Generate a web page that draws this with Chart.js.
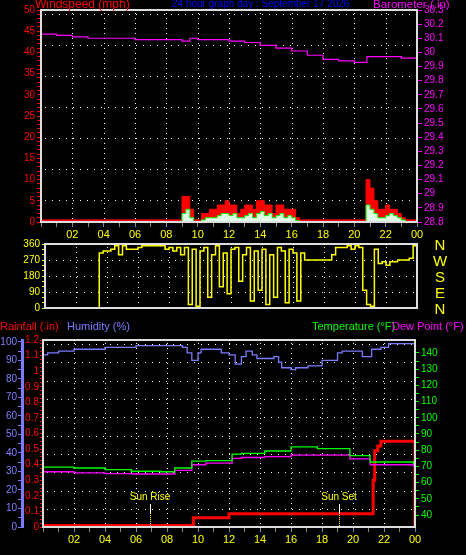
<!DOCTYPE html>
<html><head><meta charset="utf-8">
<script src="https://cdn.jsdelivr.net/npm/chart.js@4.4.0/dist/chart.umd.min.js"></script>
<style>
html,body{margin:0;padding:0;background:#000;width:466px;height:555px;overflow:hidden}
canvas{position:absolute;left:0}
#c1{top:0px}#c2{top:235px}#c3{top:320px}
</style></head><body>
<canvas id="c1" width="466" height="240"></canvas>
<canvas id="c2" width="466" height="90"></canvas>
<canvas id="c3" width="466" height="235"></canvas>
<script>
// ---------- DATA ----------
const quarterHours = Array.from({length:97},(_,i)=>i/4);
const windGust = [0.5,0.5,0.5,0.5,0.5,0.5,0.5,0.5,0.5,0.5,0.5,0.5,0.5,0.5,0.5,0.5,0.5,0.5,0.5,0.5,0.5,0.5,0.5,0.5,0.5,0.5,0.5,0.5,0.5,0.5,0.5,0.5,0.5,0.5,0.5,0.5,
 6,6,3,0.5,0.5,2,2,3,3,4,4,5,4,4,2,3,4,4,3,5,5,4,4,2,4,4,3,3,3,1,
 0.5,0.5,0.5,0.5,0.5,0.5,0.5,0.5,0.5,0.5,0.5,0.5,0.5,0.5,0.5,0.5,0.5,
 10,8,5,3,3,4,3,3,2,1,0.5,0.5,0.5,0.5];
const windAvg = [0,0,0,0,0,0,0,0,0,0,0,0,0,0,0,0,0,0,0,0,0,0,0,0,0,0,0,0,0,0,0,0,0,0,0,0,
 2,3,1,0,0,0.5,1,1,1,1.5,2,2,1.5,2,1,1,1.5,2,1,2,2.5,1.5,2,1,1.5,2,1,1.5,1,0.3,
 0,0,0,0,0,0,0,0,0,0,0,0,0,0,0,0,0,
 4,3,2,1,1,1.5,2,1.5,1,0.5,0,0,0,0];
const windDir = [0,0,0,0,0,0,0,0,0,0,0,0,0,0,310,320,320,330,350,300,350,330,330,330,340,350,350,350,350,350,350,330,340,320,340,300,
 340,20,330,10,320,340,60,300,350,120,310,80,330,340,150,300,340,40,320,100,330,20,300,60,340,320,30,330,310,40,310,
 270,270,270,270,270,270,270,300,340,340,340,350,330,350,340,100,20,10,330,250,260,240,260,260,270,270,270,280,350,350];
const baroHours = [0,1,2,3,4,5,6,7,8,9,9.5,10,11,12,13,14,15,16,17,18,19,20,20.8,22,23,24];
const baroValues = [30.13,30.12,30.11,30.10,30.10,30.10,30.09,30.09,30.09,30.08,30.10,30.09,30.09,30.08,30.07,30.05,30.03,30.01,29.98,29.95,29.94,29.93,29.97,29.97,29.96,29.94];
const humHours = [0,0.3,1,2,3,4,5,6,8,9,9.3,9.6,10,10.2,11,11.5,12,12.4,12.8,13.1,13.5,13.8,14.5,14.9,15.2,15.4,16,16.3,17.1,18,19,19.3,20.5,20.6,20.8,21.2,21.8,22.3,24];
const humValues = [93,94,95,96,96,97,97,98,98,97,94,90,94,96,96,94,93,88,92,95,93,91,91,92,89,86,85,86,87,90,94,95,95,92,92,96,97,99,99];
const tempHours = [0,2,4,5.7,7.6,8.5,9.6,10.5,12.2,12.8,14.3,16,17.7,19.8,21.1,23.9];
const tempValues = [69.6,69,68,67,66.7,69,73.3,73.5,77.6,78,79.5,82,81,76.6,72.7,71.3];
const dewValues = [66.7,66,65.5,65.3,65.3,67.5,71,72,75,75.5,76,77,77,74.6,71,69.8];
const rainHours = [0,9.7,12.0,21.1,21.3,21.4,21.6,21.8,23.9,24];
const rainValues = [0.01,0.06,0.085,0.085,0.3,0.49,0.52,0.55,0.55,0];
const hourLabels = ['02','04','06','08','10','12','14','16','18','20','22','00'];
const sunRise = 6.9, sunSet = 19.1;
const dirTicks = [360,270,180,90,0];
const dirLabels = ['N','W','S','E','N'];

const pts=(xs,ys)=>xs.map((x,i)=>({x,y:ys[i]}));
const FONT='Liberation Sans';
Chart.defaults.font.family=FONT;
Chart.defaults.animation=false;

function fixW(w){return a=>{a.width=w;};}
function fixH(h){return a=>{a.height=h;};}
function setTicks(vals){return a=>{a.ticks=vals.map(v=>({value:v}));};}
function range(a,b,s){const r=[];for(let v=a;v<=b+1e-9;v+=s)r.push(Math.round(v*1000)/1000);return r;}

function xScale(show){
  return {type:'linear',min:0,max:24,afterFit:fixH(show?18:0),
    afterBuildTicks:setTicks(range(0,24,1)),
    grid:{drawOnChartArea:false,color:'#888',tickLength:5,display:show},
    border:{display:false},
    ticks:{display:show,color:'#ffff00',font:{size:11},padding:1,maxRotation:0,minRotation:0,autoSkip:false,
      callback:v=>(v>0&&v%2===0)?hourLabels[v/2-1]:''}};
}

const framePlugin={id:'frame',
  beforeDatasetsDraw(ch,args,opts){
    const c=ch.ctx,a=ch.chartArea;
    c.save();c.fillStyle='#fff';
    for(let h=2;h<24;h+=2){const x=Math.round(ch.scales.x.getPixelForValue(h));
      for(let y=a.top+3;y<a.bottom;y+=5)c.fillRect(x,y,1,1);}
    (opts.rows||[]).forEach(yy=>{const y=Math.round(a.top+yy);for(let x=a.left+4;x<a.right;x+=7)c.fillRect(x,y,1,1);});
    c.restore();
  },
  afterDraw(ch,args,opts){
    const c=ch.ctx,a=ch.chartArea;
    c.save();c.strokeStyle='#ddd';c.lineWidth=2;
    c.strokeRect(a.left,a.top,a.right-a.left,a.bottom-a.top);
    (opts.texts||[]).forEach(t=>{c.font=(t.size||11)+'px '+FONT;c.fillStyle=t.color;c.textBaseline='top';c.textAlign='left';c.fillText(t.text,t.x,t.y);});
    if(opts.compass){
      c.font='15px '+FONT;c.fillStyle='#ffff00';c.textAlign='center';c.textBaseline='middle';
      dirTicks.forEach((v,i)=>c.fillText(dirLabels[i],440,ch.scales.y.getPixelForValue(v)+2));
    }
    if(opts.sun){
      const y0=a.bottom-23;
      [[sunRise,'Sun Rise'],[sunSet,'Sun Set']].forEach(([h,l])=>{
        const x=Math.round(ch.scales.x.getPixelForValue(h));
        c.fillStyle='#fff';c.fillRect(x,y0,1,10);
        c.fillStyle='#ffff00';for(let y=y0+11;y<a.bottom;y+=2)c.fillRect(x,y,1,1);
        c.font='10px '+FONT;c.textAlign='center';c.textBaseline='bottom';c.fillText(l,x,y0-2);
      });
    }
    c.restore();
  }};

// ---------- CHART 1 ----------
new Chart(document.getElementById('c1'),{type:'line',plugins:[framePlugin],
  data:{datasets:[
    {data:pts(baroHours,baroValues),yAxisID:'baro',borderColor:'#ff00ff',borderWidth:1.2,stepped:'before',pointRadius:0},
    {data:pts(quarterHours,windAvg),yAxisID:'wind',borderColor:'#00ff00',backgroundColor:'#e0ffe8',fill:'origin',borderWidth:1,stepped:'before',pointRadius:0,order:0},
    {data:pts(quarterHours,windGust),yAxisID:'wind',borderColor:'#ff0000',backgroundColor:'#ff0000',fill:'origin',borderWidth:1,stepped:'before',pointRadius:0,order:1}
  ]},
  options:{responsive:false,devicePixelRatio:1,layout:{autoPadding:false,padding:{top:10,left:0,right:0,bottom:0}},
    plugins:{legend:{display:false},tooltip:{enabled:false},
      frame:{rows:[4,35,66,97,128,159,190],texts:[
        {text:'Windspeed (mph)',x:35,y:-1,color:'#ff0000',size:12},
        {text:'24 hour graph day : September 17 2026',x:172,y:-1,color:'#0000ff',size:10},
        {text:'Barometer (.in)',x:373,y:-1,color:'#ff00ff',size:11.5}]}},
    scales:{
      x:xScale(true),
      wind:{position:'left',min:0,max:50,afterFit:fixW(41),afterBuildTicks:setTicks(range(0,50,1)),
        grid:{drawOnChartArea:false,color:'#ff0000',tickLength:4},border:{display:false},
        ticks:{color:'#ff0000',font:{size:10},padding:2,autoSkip:false,callback:v=>v%5===0?String(v):''}},
      baro:{position:'right',min:28.8,max:30.3,afterFit:fixW(49),afterBuildTicks:setTicks(range(28.8,30.3,0.1)),
        grid:{drawOnChartArea:false,color:'#ff00ff',tickLength:5},border:{display:false},
        ticks:{color:'#ff00ff',font:{size:10},padding:2,autoSkip:false,callback:v=>String(Number(v.toFixed(1)))}}
    }}});

// ---------- CHART 2 ----------
new Chart(document.getElementById('c2'),{type:'line',plugins:[framePlugin],
  data:{datasets:[{data:pts(quarterHours,windDir),borderColor:'#ffff00',borderWidth:1.5,stepped:'before',pointRadius:0}]},
  options:{responsive:false,devicePixelRatio:1,layout:{autoPadding:false,padding:{top:9,bottom:17,right:49}},
    plugins:{legend:{display:false},tooltip:{enabled:false},frame:{compass:true,rows:[16,32,48]}},
    scales:{
      x:xScale(false),
      y:{position:'left',min:0,max:360,afterFit:fixW(45),afterBuildTicks:setTicks(range(0,360,30)),
        grid:{drawOnChartArea:false,color:'#ffff00',tickLength:3},border:{display:false},
        ticks:{color:'#ffff00',font:{size:10},padding:2,autoSkip:false,callback:v=>v%90===0?String(v):''}}
    }}});

// ---------- CHART 3 ----------
new Chart(document.getElementById('c3'),{type:'line',plugins:[framePlugin],
  data:{datasets:[
    {data:pts(humHours,humValues),yAxisID:'hum',borderColor:'#7b7bff',borderWidth:1.3,stepped:'before',pointRadius:0},
    {data:pts(tempHours,tempValues),yAxisID:'temp',borderColor:'#00ff00',borderWidth:1.3,stepped:'before',pointRadius:0},
    {data:pts(tempHours,dewValues),yAxisID:'temp',borderColor:'#ff00ff',borderWidth:1.3,stepped:'before',pointRadius:0},
    {data:pts(rainHours,rainValues),yAxisID:'rain',borderColor:'#ff0000',borderWidth:3,stepped:'before',pointRadius:0}
  ]},
  options:{responsive:false,devicePixelRatio:1,layout:{autoPadding:false,padding:{top:20,bottom:10}},
    plugins:{legend:{display:false},tooltip:{enabled:false},
      frame:{sun:true,rows:[4,22,41,59,77,96,114,132,151,169],texts:[
        {text:'Rainfall (.in)',x:0,y:1,color:'#ff0000'},
        {text:'Humidity (%)',x:67,y:1,color:'#7b7bff'},
        {text:'Temperature (°F)',x:312,y:1,color:'#00ff00'},
        {text:'Dew Point (°F)',x:392,y:1,color:'#ff00ff'}]}},
    scales:{
      x:xScale(true),
      hum:{position:'left',weight:1,min:0,max:101,afterFit:fixW(22),afterBuildTicks:setTicks(range(0,100,5)),
        grid:{drawOnChartArea:false,color:'#7b7bff',tickLength:4},border:{display:true,color:'#7b7bff',width:3},
        ticks:{color:'#8080ff',font:{size:10},padding:1,autoSkip:false,callback:v=>v%10===0?String(v):''}},
      rain:{position:'left',weight:0,min:0,max:1.2,afterFit:fixW(21),afterBuildTicks:setTicks(range(0,1.2,0.025)),
        grid:{drawOnChartArea:false,color:'#ff0000',tickLength:3},border:{display:false},
        ticks:{color:'#ff0000',font:{size:10},padding:1,autoSkip:false,callback:v=>{const r=Math.round(v*40);return r%4===0?String(Number(v.toFixed(1))):'';}}},
      temp:{position:'right',min:32.6,max:148,afterFit:fixW(51),afterBuildTicks:setTicks(range(40,140,5)),
        grid:{drawOnChartArea:false,color:'#00ff00',tickLength:4},border:{display:true,color:'#00ff00',width:2},
        ticks:{color:'#00ff00',font:{size:10},padding:2,autoSkip:false,callback:v=>v%10===0?String(v):''}}
    }}});
</script></body></html>
